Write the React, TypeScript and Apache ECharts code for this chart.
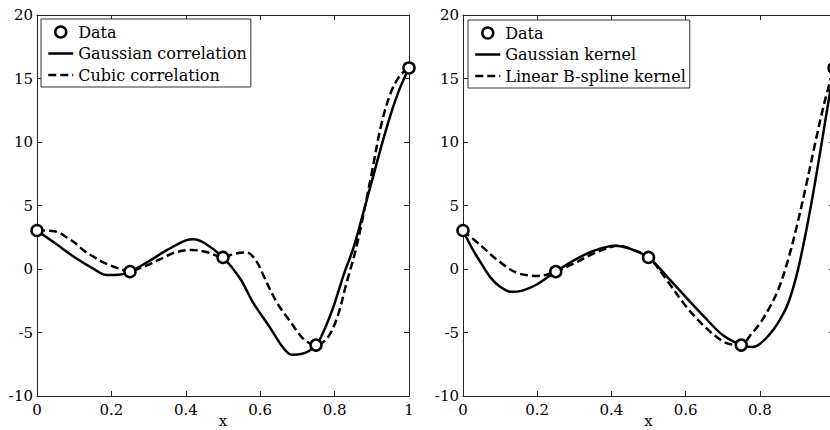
import React, { useEffect, useRef } from "react";
import * as echarts from "echarts";

// Sample points (shared by both panels)
const dataX = [0, 0.25, 0.5, 0.75, 1];
const dataY = [3.03, -0.21, 0.91, -5.99, 15.83];

// Left panel: Kriging
const gaussCorrX = [0, 0.05, 0.1, 0.15, 0.187, 0.22, 0.25, 0.3, 0.35, 0.4, 0.42, 0.45, 0.5, 0.546, 0.58, 0.626, 0.662, 0.685, 0.71, 0.75, 0.775, 0.8, 0.825, 0.85, 0.875, 0.9, 0.925, 0.95, 0.975, 1];
const gaussCorrY = [3.03, 2.0, 0.95, 0.05, -0.47, -0.45, -0.21, 0.6, 1.5, 2.25, 2.35, 2.05, 0.91, -0.75, -2.6, -4.6, -6.2, -6.75, -6.7, -5.99, -4.6, -2.7, -0.4, 1.6, 4.2, 6.9, 9.6, 12.1, 14.2, 15.83];
const cubicCorrX = [0, 0.04, 0.06, 0.084, 0.1, 0.129, 0.15, 0.174, 0.2, 0.219, 0.25, 0.275, 0.308, 0.34, 0.371, 0.416, 0.46, 0.5, 0.53, 0.564, 0.59, 0.608, 0.644, 0.68, 0.716, 0.75, 0.779, 0.806, 0.833, 0.86, 0.9, 0.925, 0.95, 0.975, 1];
const cubicCorrY = [3.03, 3.0, 2.85, 2.4, 2.1, 1.37, 1.0, 0.58, 0.25, 0.05, -0.21, 0.05, 0.45, 0.9, 1.3, 1.5, 1.3, 0.91, 1.2, 1.3, 0.6, -0.47, -2.6, -4.1, -5.5, -5.99, -5.5, -3.9, -1.0, 1.9, 7.6, 11.3, 13.8, 15.2, 15.83];

// Right panel: kernel regression
const gaussKernX = [0, 0.025, 0.05, 0.075, 0.1, 0.13, 0.16, 0.2, 0.25, 0.3, 0.35, 0.41, 0.45, 0.5, 0.55, 0.6, 0.65, 0.7, 0.75, 0.78, 0.8, 0.825, 0.85, 0.875, 0.9, 0.925, 0.95, 0.975, 1];
const gaussKernY = [3.03, 1.6, 0.4, -0.7, -1.4, -1.8, -1.7, -1.2, -0.21, 0.7, 1.4, 1.84, 1.6, 0.91, -0.6, -2.2, -3.75, -5.2, -5.99, -6.15, -5.9, -5.2, -4.2, -2.8, -0.4, 3.0, 7.0, 11.4, 15.83];
const splineKernX = [0, 0.05, 0.076, 0.1, 0.125, 0.15, 0.175, 0.2, 0.225, 0.25, 0.3, 0.35, 0.4, 0.42, 0.45, 0.5, 0.55, 0.6, 0.65, 0.7, 0.725, 0.75, 0.775, 0.8, 0.825, 0.85, 0.875, 0.9, 0.925, 0.95, 0.975, 1];
const splineKernY = [3.03, 1.8, 1.1, 0.55, 0.0, -0.35, -0.5, -0.55, -0.45, -0.21, 0.45, 1.2, 1.75, 1.84, 1.6, 0.91, -0.9, -2.9, -4.5, -5.7, -5.95, -5.99, -5.2, -4.3, -3.1, -1.6, 0.6, 3.4, 6.6, 10.0, 13.2, 15.83];

const xTicks = { min: 0, max: 1, interval: 0.2 };
const yTicks = { min: -10, max: 20, interval: 5 };

const zip = (xs: number[], ys: number[]) => xs.map((x, i) => [x, ys[i]]);

const FONT = "DejaVu Serif";

export default function App() {
  const ref = useRef<HTMLDivElement>(null);
  useEffect(() => {
    if (!ref.current) return;
    const chart = echarts.init(ref.current, null, { renderer: "svg" });
    const axisLine = { show: true, onZero: false, lineStyle: { color: "#222", width: 1 } };
    const tick = { show: true, inside: true, length: 5, lineStyle: { color: "#222", width: 1 } };
    const label = { fontFamily: FONT, fontSize: 15, color: "#000" };
    const xFmt = (v: number) => String(Math.round(v * 10) / 10);
    const grids = [
      { left: 37, top: 15, width: 372, height: 381, outerBoundsMode: "none", containLabel: false },
      { left: 463, top: 15, width: 371, height: 381, outerBoundsMode: "none", containLabel: false },
    ];
    const xAxis: any[] = [];
    const yAxis: any[] = [];
    [0, 1].forEach((g) => {
      xAxis.push({
        type: "value", gridIndex: g, position: "bottom", ...xTicks,
        axisLine, axisTick: tick, splitLine: { show: false },
        axisLabel: { ...label, margin: 6, formatter: xFmt, showMaxLabel: g === 0 },
        name: "x", nameLocation: "middle", nameGap: 17, nameMoveOverlap: false,
        nameTextStyle: { fontFamily: FONT, fontSize: 15, color: "#000", verticalAlign: "top" },
      });
      xAxis.push({
        type: "value", gridIndex: g, position: "top", ...xTicks,
        axisLine, axisTick: tick, splitLine: { show: false }, axisLabel: { show: false },
      });
      yAxis.push({
        type: "value", gridIndex: g, position: "left", ...yTicks,
        axisLine, axisTick: tick, splitLine: { show: false },
        axisLabel: { ...label, margin: 4 },
      });
      yAxis.push({
        type: "value", gridIndex: g, position: "right", ...yTicks,
        axisLine, axisTick: tick, splitLine: { show: false }, axisLabel: { show: false },
      });
    });
    const lineSeries = (name: string, xs: number[], ys: number[], g: number, dashed: boolean) => ({
      type: "line", name, xAxisIndex: g * 2, yAxisIndex: g * 2,
      data: zip(xs, ys), smooth: 0.35, symbol: "none", showSymbol: false,
      lineStyle: { color: "#000", width: 2.5, type: dashed ? [8, 4] : "solid" },
      itemStyle: { color: "#000" }, z: 2,
    });
    const dataSeries = (g: number) => ({
      type: "scatter", name: "Data", xAxisIndex: g * 2, yAxisIndex: g * 2,
      data: zip(dataX, dataY), symbol: "circle", symbolSize: 11,
      itemStyle: { color: "#fff", borderColor: "#000", borderWidth: 2.5, opacity: 1 },
      z: 5,
    });
    const hiddenSym = { opacity: 0, color: "rgba(0,0,0,0)", borderWidth: 0 };
    const legendItems = (names: string[]) =>
      names.map((n, i) => (i === 0 ? { name: n } : { name: n, itemStyle: hiddenSym }));
    const legendBase = {
      orient: "vertical", borderColor: "#333", borderWidth: 1, backgroundColor: "#fff",
      padding: [5, 4, 4, 6], itemWidth: 25, itemHeight: 11, itemGap: 5.5,
      textStyle: { fontFamily: FONT, fontSize: 16, color: "#000" },
      lineStyle: { width: 2.5 }, itemStyle: { borderWidth: 2.5 }, selectedMode: false,
    };
    chart.setOption({
      animation: false,
      backgroundColor: "#fff",
      grid: grids,
      xAxis, yAxis,
      legend: [
        { ...legendBase, left: 41, top: 19, data: legendItems(["Data", "Gaussian correlation", "Cubic correlation"]) },
        { ...legendBase, left: 468, top: 20, data: legendItems(["Data", "Gaussian kernel", "Linear B-spline kernel"]) },
      ],
      series: [
        lineSeries("Gaussian correlation", gaussCorrX, gaussCorrY, 0, false),
        lineSeries("Cubic correlation", cubicCorrX, cubicCorrY, 0, true),
        dataSeries(0),
        lineSeries("Gaussian kernel", gaussKernX, gaussKernY, 1, false),
        lineSeries("Linear B-spline kernel", splineKernX, splineKernY, 1, true),
        dataSeries(1),
      ],
    });
    return () => chart.dispose();
  }, []);
  return (
    <div ref={ref} style={{ position: "absolute", left: 0, top: 0, width: 830, height: 430 }} />
  );
}
